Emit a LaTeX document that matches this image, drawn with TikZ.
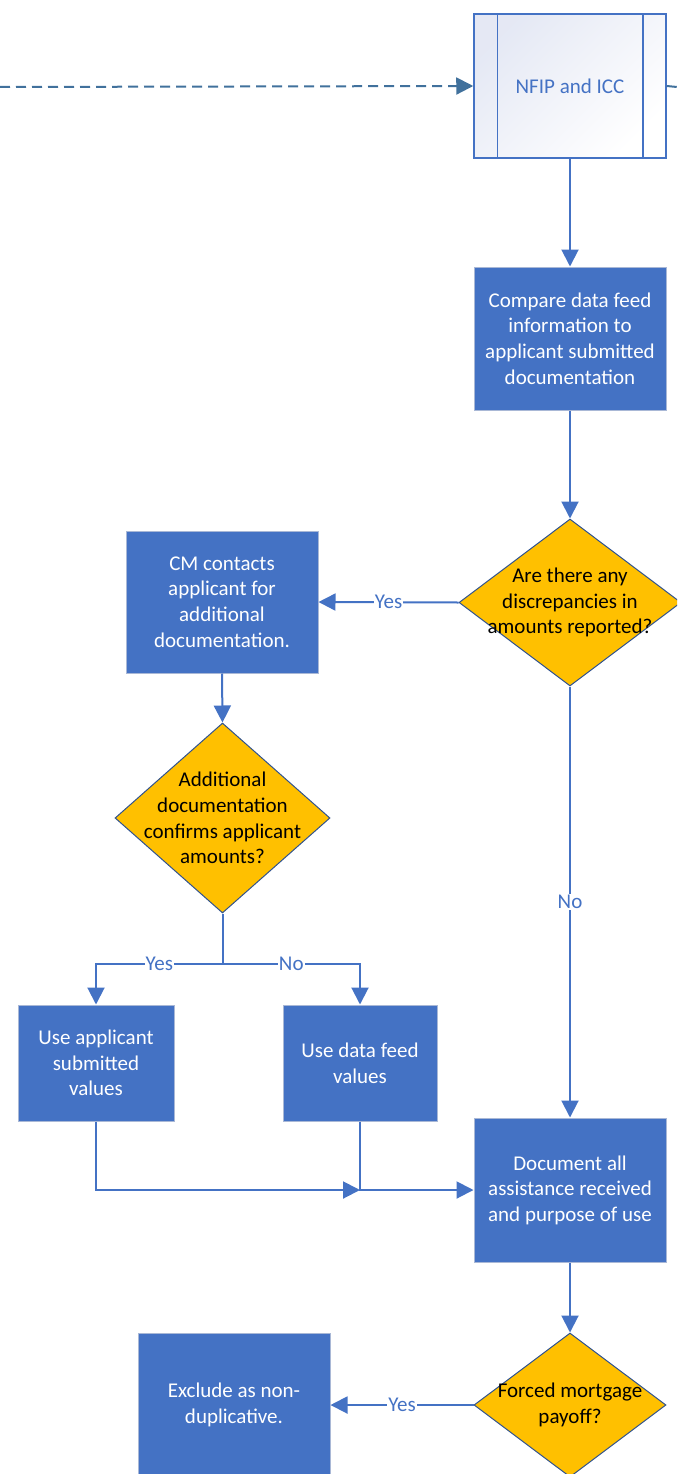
\documentclass[tikz,border=0pt]{standalone}
\usepackage{fontspec}
\setmainfont{Carlito}
\usetikzlibrary{shapes.geometric,arrows.meta}
\definecolor{boxblue}{HTML}{4472C4}
\definecolor{steel}{HTML}{41719C}
\definecolor{gold}{HTML}{FFC000}
\definecolor{diaedge}{HTML}{2F528F}
\definecolor{boxedge}{HTML}{A9B8D6}
\definecolor{lav}{HTML}{DCE1F1}
\begin{document}
\begin{tikzpicture}[x=1pt,y=-1pt,
 every node/.style={font=\fontsize{21pt}{25.6pt}\selectfont},
 box/.style={rectangle, fill=boxblue, draw=boxedge, line width=1pt, text=white, align=center, inner sep=0pt},
 dia/.style={diamond, fill=gold, draw=diaedge, line width=1pt, inner sep=0pt},
 dtext/.style={align=center, text=black, inner sep=0pt},
 conn/.style={draw=boxblue, line width=2pt, -{Triangle[length=17pt,width=17pt]}},
 plain/.style={draw=boxblue, line width=2pt},
 lbl/.style={fill=white, text=boxblue, inner sep=1pt},
 dashline/.style={draw=steel, line width=2pt, dash pattern=on 10pt off 6pt},
]
\useasboundingbox (0,0) rectangle (677,1474);
\clip (0,0) rectangle (677,1474);

% predefined process
\node[draw=boxblue, line width=1.5pt, top color=lav!75, bottom color=white, shading angle=45,
      minimum width=192pt, minimum height=144pt, text=boxblue, inner sep=0pt] (nfip) at (570,86) {NFIP and ICC};
\draw[boxblue, line width=1.5pt] ([xshift=24pt]nfip.north west) -- ([xshift=24pt]nfip.south west);
\draw[boxblue, line width=1.5pt] ([xshift=-24pt]nfip.north east) -- ([xshift=-24pt]nfip.south east);

\coordinate (dstart) at (0,87);
\coordinate (dend) at (677,87);
\draw[dashline, -{Triangle[length=17pt,width=17pt]}] (dstart) -- (nfip.west);
\draw[dashline] (nfip.east) -- (dend);

\node[box, minimum width=192pt, minimum height=143pt] (cmp) at (570,338.5)
  {Compare data feed\\information to\\applicant submitted\\documentation};

\node[dia, minimum width=222pt, minimum height=167pt] (d1) at (570,602.5) {};
\node[dtext] (d1t) at (d1.center) {Are there any\\discrepancies in\\amounts reported?};

\node[box, minimum width=192pt, minimum height=142pt] (cm) at (222,602)
  {CM contacts\\applicant for\\additional\\documentation.};

\node[dia, minimum width=215pt, minimum height=190pt] (d2) at (222.5,818) {};
\node[dtext] (d2t) at (d2.center) {Additional\\documentation\\confirms applicant\\amounts?};

\node[box, minimum width=156pt, minimum height=116pt] (ua) at (96,1063)
  {Use applicant\\submitted\\values};
\node[box, minimum width=154pt, minimum height=116pt] (udf) at (360,1063)
  {Use data feed\\values};

\node[box, minimum width=192pt, minimum height=144pt] (doc) at (570,1190)
  {Document all\\assistance received\\and purpose of use};

\node[dia, minimum width=192pt, minimum height=144pt] (d3) at (570,1405) {};
\node[dtext] (d3t) at (d3.center) {Forced mortgage\\payoff?};

\node[box, minimum width=192pt, minimum height=144pt] (ex) at (234,1405)
  {Exclude as non-\\duplicative.};

% connectors
\draw[conn] (nfip.south) -- (cmp.north);
\draw[conn] (cmp.south) -- (d1.north);
\draw[conn] (d1.west) -- node[lbl]{Yes} (cm.east);
\draw[conn] (cm.south) -- (d2.north);
\draw[plain] (d2.south) -- ++(0,50) coordinate (split);
\draw[conn] (split) -| node[lbl, pos=0.25]{Yes} (ua.north);
\draw[conn] (split) -| node[lbl, pos=0.25]{No} (udf.north);
\coordinate (join) at (udf.south |- doc.west);
\draw[conn] (ua.south) |- (join);
\draw[conn] (udf.south) |- (doc.west);
\draw[conn] (d1.south) -- node[lbl]{No} (doc.north);
\draw[conn] (doc.south) -- (d3.north);
\draw[conn] (d3.west) -- node[lbl]{Yes} (ex.east);
\end{tikzpicture}
\end{document}
